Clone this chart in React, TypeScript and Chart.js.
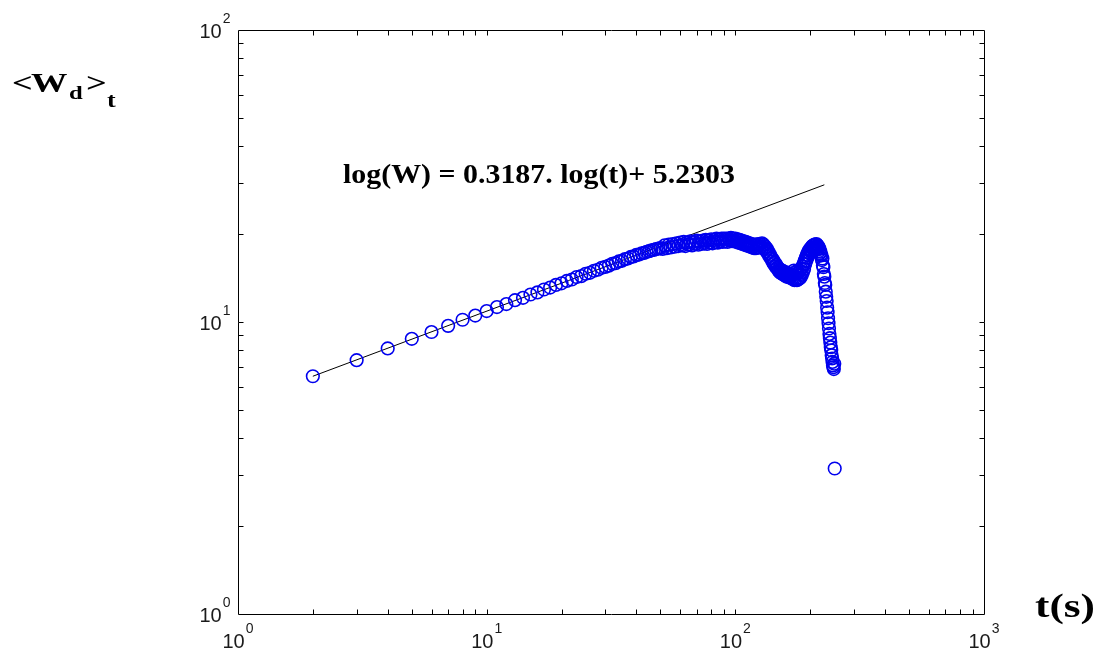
import React, { useEffect, useRef } from "react";
import { Chart, registerables } from "chart.js";

Chart.register(...registerables);

// ---- data ----
const timeS: number[] = [
  2, 3, 4, 5, 6, 7, 8, 9, 10,
  11, 12, 13, 14, 15, 16, 17, 18, 19, 20,
  21, 22, 23, 24, 25, 26, 27, 28, 29, 30,
  31, 32, 33, 34, 35, 36, 37, 38, 39, 40,
  41, 42, 43, 44, 45, 46, 47, 48, 49, 50,
  51, 52, 53, 54, 55, 56, 57, 58, 59, 60,
  61, 62, 63, 64, 65, 66, 67, 68, 69, 70,
  71, 72, 73, 74, 75, 76, 77, 78, 79, 80,
  81, 82, 83, 84, 85, 86, 87, 88, 89, 90,
  91, 92, 93, 94, 95, 96, 97, 98, 99, 100,
  101, 102, 103, 104, 105, 106, 107, 108, 109, 110,
  111, 112, 113, 114, 115, 116, 117, 118, 119, 120,
  121, 122, 123, 124, 125, 126, 127, 128, 129, 130,
  131, 132, 133, 134, 135, 136, 137, 138, 139, 140,
  141, 142, 143, 144, 145, 146, 147, 148, 149, 150,
  151, 152, 153, 154, 155, 156, 157, 158, 159, 160,
  161, 162, 163, 164, 165, 166, 167, 168, 169, 170,
  171, 172, 173, 174, 175, 176, 177, 178, 179, 180,
  181, 182, 183, 184, 185, 186, 187, 188, 189, 190,
  191, 192, 193, 194, 195, 196, 197, 198, 199, 200,
  201, 202, 203, 204, 205, 206, 207, 208, 209, 210,
  211, 212, 213, 214, 215, 216, 217, 218, 219, 220,
  221, 222, 223, 224, 225, 226, 227, 228, 229, 230,
  231, 232, 233, 234, 235, 236, 237, 238, 239, 240,
  241, 242, 243, 244, 245, 246, 247, 248, 249, 250, 251,
];

const meanWd: number[] = [
  6.52, 7.40, 8.12, 8.76, 9.24, 9.70, 10.18, 10.52, 10.90,
  11.25, 11.52, 11.88, 12.10, 12.42, 12.63, 12.92, 13.12, 13.40, 13.57,
  13.82, 13.98, 14.25, 14.36, 14.62, 14.74, 14.98, 15.10, 15.33, 15.44,
  15.60, 15.82, 15.90, 16.12, 16.20, 16.42, 16.50, 16.70, 16.76, 16.98,
  17.02, 17.18, 17.25, 17.40, 17.48, 17.60, 17.66, 17.78, 17.84, 17.92,
  17.8, 18.3, 17.9, 18.4, 18.0, 18.5, 18.1, 18.6, 18.2, 18.7,
  18.3, 18.8, 18.2, 18.7, 18.4, 18.9, 18.3, 18.8, 18.5, 19.0,
  18.4, 18.9, 18.5, 19.0, 18.6, 19.1, 18.5, 19.0, 18.7, 19.2,
  18.6, 19.1, 18.8, 19.3, 18.7, 19.2, 18.9, 19.3, 18.8, 19.3,
  18.9, 19.3, 18.8, 19.3, 19.0, 19.4, 18.9, 19.3, 19.0, 19.3,
  18.8, 19.2, 18.7, 19.1, 18.6, 19.0, 18.5, 18.9, 18.4, 18.8,
  18.3, 18.7, 18.2, 18.6, 18.1, 18.5, 18.0, 18.4, 17.9, 18.4,
  17.9, 18.4, 18.0, 18.5, 18.0, 18.5, 18.1, 18.6, 18.0, 18.4,
  17.8, 18.1, 17.5, 17.8, 17.2, 17.4, 16.8, 17.0, 16.5, 16.6,
  16.1, 16.3, 15.8, 16.0, 15.5, 15.7, 15.3, 15.4, 15.0, 15.2,
  14.8, 15.1, 14.7, 15.0, 14.6, 14.9, 14.5, 14.8, 14.4, 14.8,
  14.3, 14.7, 14.3, 14.6, 14.2, 14.6, 14.2, 14.5, 14.1, 14.5,
  14.0, 15.0, 13.9, 14.8, 14.0, 14.9, 13.9, 14.7, 14.0, 14.8,
  14.1, 15.0, 14.2, 15.2, 14.5, 15.5, 14.8, 15.8, 15.2, 16.2,
  15.8, 16.6, 16.2, 17.0, 16.6, 17.3, 16.9, 17.6, 17.2, 17.8,
  17.4, 18.0, 17.6, 18.2, 17.8, 18.3, 17.9, 18.4, 18.0, 18.4,
  18.1, 18.5, 18.0, 18.3, 17.8, 18.1, 17.5, 17.8, 17.2, 17.4,
  17.0, 16.9, 16.3, 16.5, 15.6, 15.4, 14.6, 14.3, 13.6, 13.4,
  12.7, 12.2, 11.8, 11.2, 10.8, 10.3, 9.9, 9.5, 9.1, 8.8,
  8.5, 8.2, 8.0, 7.7, 7.5, 7.3, 7.1, 7.0, 6.9, 7.2, 3.15,
];

// fitted power law line (end points)
const fitT: number[] = [2, 228];
const fitW: number[] = [6.52, 29.5];

const xDecades: number[] = [1, 10, 100, 1000];
const xExponents: string[] = ["0", "1", "2", "3"];
const yDecades: number[] = [1, 10, 100];
const yExponents: string[] = ["0", "1", "2"];
const minorMultipliers: number[] = [2, 3, 4, 5, 6, 7, 8, 9];

const fitLabel = "log(W) = 0.3187. log(t)+ 5.2303";
const xAxisLabel = "t(s)";

const SANS = "'Liberation Sans', Arial, Helvetica, sans-serif";
const SERIF = "'Liberation Serif', 'Times New Roman', serif";

function drawStretched(
  ctx: CanvasRenderingContext2D,
  text: string,
  x: number,
  baseline: number,
  font: string,
  sx: number
) {
  ctx.save();
  ctx.font = font;
  ctx.textAlign = "left";
  ctx.textBaseline = "alphabetic";
  ctx.translate(x, baseline);
  ctx.scale(sx, 1);
  ctx.fillText(text, 0, 0);
  ctx.restore();
}

function drawToWidth(
  ctx: CanvasRenderingContext2D,
  text: string,
  x: number,
  baseline: number,
  font: string,
  width: number
) {
  ctx.save();
  ctx.font = font;
  const w = ctx.measureText(text).width;
  ctx.restore();
  drawStretched(ctx, text, x, baseline, font, width / w);
}

const axesPlugin = {
  id: "matlabAxes",
  afterDraw(chart: any) {
    const ctx: CanvasRenderingContext2D = chart.ctx;
    const { left, right, top, bottom } = chart.chartArea;
    const xs = chart.scales.x;
    const ys = chart.scales.y;
    const L = Math.round(left) + 0.5;
    const R = Math.round(right) + 0.5;
    const T = Math.round(top) + 0.5;
    const B = Math.round(bottom) + 0.5;
    const tickLen = 5;

    ctx.save();
    ctx.strokeStyle = "#000";
    ctx.lineWidth = 1;
    ctx.beginPath();
    ctx.rect(L, T, R - L, B - T);
    ctx.stroke();

    // x ticks
    const xTickVals: number[] = [];
    for (let i = 0; i < xDecades.length; i++) {
      xTickVals.push(xDecades[i]);
      if (i < xDecades.length - 1) minorMultipliers.forEach((m) => xTickVals.push(m * xDecades[i]));
    }
    ctx.beginPath();
    xTickVals.forEach((v) => {
      const px = Math.round(xs.getPixelForValue(v)) + 0.5;
      if (px <= L + 1 || px >= R - 1) return;
      ctx.moveTo(px, B);
      ctx.lineTo(px, B - tickLen);
      ctx.moveTo(px, T);
      ctx.lineTo(px, T + tickLen);
    });
    // y ticks
    const yTickVals: number[] = [];
    for (let i = 0; i < yDecades.length; i++) {
      yTickVals.push(yDecades[i]);
      if (i < yDecades.length - 1) minorMultipliers.forEach((m) => yTickVals.push(m * yDecades[i]));
    }
    yTickVals.forEach((v) => {
      const py = Math.round(ys.getPixelForValue(v)) + 0.5;
      if (py <= T + 1 || py >= B - 1) return;
      ctx.moveTo(L, py);
      ctx.lineTo(L + tickLen, py);
      ctx.moveTo(R, py);
      ctx.lineTo(R - tickLen, py);
    });
    ctx.stroke();

    // tick labels: 10^n
    ctx.fillStyle = "#1a1a1a";
    const baseFont = `20px ${SANS}`;
    const expFont = `14px ${SANS}`;
    ctx.textAlign = "left";
    ctx.textBaseline = "alphabetic";
    xDecades.forEach((v, i) => {
      const px = xs.getPixelForValue(v);
      ctx.font = baseFont;
      const wb = ctx.measureText("10").width;
      ctx.font = expFont;
      const we = ctx.measureText(xExponents[i]).width;
      const x0 = px - (wb + we + 1) / 2;
      ctx.font = baseFont;
      ctx.fillText("10", x0, B + 33);
      ctx.font = expFont;
      ctx.fillText(xExponents[i], x0 + wb + 1, B + 18);
    });
    yDecades.forEach((v, i) => {
      const py = ys.getPixelForValue(v);
      ctx.font = baseFont;
      const wb = ctx.measureText("10").width;
      ctx.font = expFont;
      const we = ctx.measureText(yExponents[i]).width;
      const x0 = L - 8 - (wb + we + 1);
      ctx.font = baseFont;
      ctx.fillText("10", x0, py + 7.5);
      ctx.font = expFont;
      ctx.fillText(yExponents[i], x0 + wb + 1, py - 7);
    });

    // annotations
    ctx.fillStyle = "#000";
    drawToWidth(ctx, fitLabel, 343, 183, `bold 28px ${SERIF}`, 392);
    drawToWidth(ctx, xAxisLabel, 1035, 617, `bold 33px ${SERIF}`, 60);

    // y axis label <W_d>_t
    const sx = 1.3;
    drawStretched(ctx, "<", 12, 92, `bold 28px ${SERIF}`, sx);
    drawStretched(ctx, "W", 31, 92, `bold 28px ${SERIF}`, sx);
    drawStretched(ctx, "d", 69, 99, `bold 19px ${SERIF}`, sx);
    drawStretched(ctx, ">", 86, 92, `bold 28px ${SERIF}`, sx);
    drawStretched(ctx, "t", 107, 107, `bold 20px ${SERIF}`, sx);

    ctx.restore();
  },
};

export default function App() {
  const canvasRef = useRef<HTMLCanvasElement | null>(null);

  useEffect(() => {
    const canvas = canvasRef.current;
    if (!canvas) return;
    const chart = new Chart(canvas, {
      type: "scatter",
      data: {
        datasets: [
          {
            label: "<Wd>t",
            data: timeS.map((t, i) => ({ x: t, y: meanWd[i] })),
            pointStyle: "circle",
            pointRadius: 6.3,
            pointBorderWidth: 1.6,
            pointBorderColor: "#0000ee",
            pointBackgroundColor: "rgba(0,0,0,0)",
            showLine: false,
          },
          {
            label: "fit",
            data: fitT.map((t, i) => ({ x: t, y: fitW[i] })),
            showLine: true,
            borderColor: "#000000",
            borderWidth: 1,
            pointRadius: 0,
            fill: false,
          },
        ],
      } as any,
      options: {
        animation: false,
        responsive: false,
        maintainAspectRatio: false,
        devicePixelRatio: 1,
        layout: { padding: { left: 238, right: 116, top: 30, bottom: 43 } },
        plugins: {
          legend: { display: false },
          tooltip: { enabled: false },
        },
        events: [],
        scales: {
          x: { type: "logarithmic", min: 1, max: 1000, display: false },
          y: { type: "logarithmic", min: 1, max: 100, display: false },
        },
      } as any,
      plugins: [axesPlugin],
    });
    return () => chart.destroy();
  }, []);

  return (
    <div style={{ position: "absolute", left: 0, top: 0, width: 1100, height: 657, background: "#fff" }}>
      <canvas ref={canvasRef} width={1100} height={657} style={{ width: 1100, height: 657, display: "block" }} />
    </div>
  );
}
